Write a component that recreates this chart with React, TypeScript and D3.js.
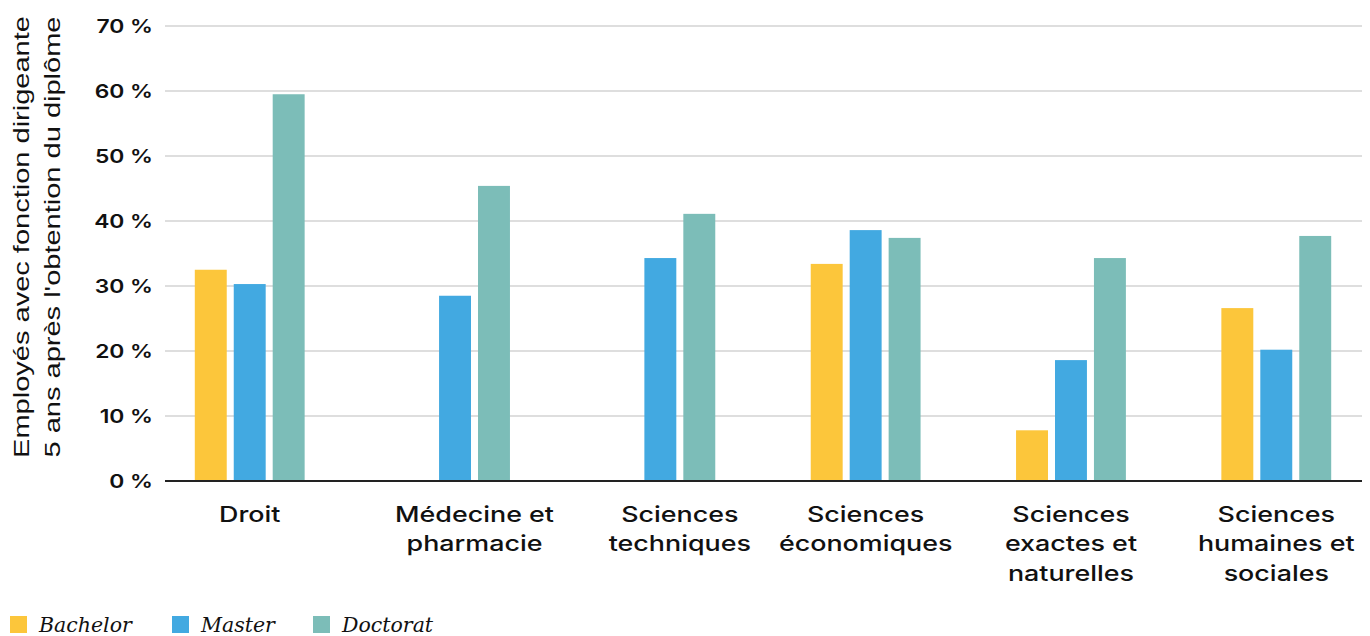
import React from "react";
import * as d3 from "d3";

const categories: string[][] = [
  ["Droit"],
  ["Médecine et", "pharmacie"],
  ["Sciences", "techniques"],
  ["Sciences", "économiques"],
  ["Sciences", "exactes et", "naturelles"],
  ["Sciences", "humaines et", "sociales"],
];
const seriesNames = ["Bachelor", "Master", "Doctorat"];
const bachelor: (number | null)[] = [32.5, null, null, 33.4, 7.8, 26.6];
const master: (number | null)[] = [30.3, 28.5, 34.3, 38.6, 18.6, 20.2];
const doctorat: (number | null)[] = [59.5, 45.4, 41.1, 37.4, 34.3, 37.7];
const yTicks = [0, 10, 20, 30, 40, 50, 60, 70];
const colors = ["#FCC63B", "#42A9E1", "#7CBDB8"];
const yTitle = ["Employés avec fonction dirigeante", "5 ans après l'obtention du diplôme"];

export default function App() {
  const W = 1370, H = 636;
  const left = 165, right = 1362, top = 26, bottom = 481;
  const series = [bachelor, master, doctorat];
  const idx = categories.map((_, i) => i);
  const x0 = d3.scaleBand<number>().domain(idx).range([left - 1, right]).paddingInner(0.465).paddingOuter(0.15);
  const x1 = d3.scaleBand<number>().domain([0, 1, 2]).range([0, x0.bandwidth()]).paddingInner(0.18).paddingOuter(0);
  const y = d3.scaleLinear().domain([0, 70]).range([bottom, top]);
  const sx = 1.25;

  return (
    <svg width={W} height={H} style={{ position: "absolute", left: 0, top: 0, background: "#fff" }}>
      {yTicks.map((t) => (
        <g key={t}>
          {t > 0 && <line x1={left} x2={right} y1={y(t)} y2={y(t)} stroke="#dedede" strokeWidth={2} />}
          <text transform={`translate(153,${y(t) + 7}) scale(1.2,1)`} textAnchor="end" fontFamily="Inter" fontWeight={600} fontSize={19} fill="#111">
            {t} %
          </text>
        </g>
      ))}
      {idx.map((ci) =>
        series.map((s, si) => {
          const v = s[ci];
          if (v == null) return null;
          return (
            <rect key={`${ci}-${si}`} x={(x0(ci) as number) + (x1(si) as number)} y={y(v)} width={x1.bandwidth()} height={y(0) - y(v)} fill={colors[si]} />
          );
        })
      )}
      <line x1={left} x2={right} y1={y(0)} y2={y(0)} stroke="#222" strokeWidth={2} />
      {categories.map((lines, ci) => {
        const present = series.map((s, si) => (s[ci] == null ? null : si)).filter((v) => v != null) as number[];
        const xs = present.map((si) => (x0(ci) as number) + (x1(si) as number));
        const cx = (d3.min(xs)! + d3.max(xs)! + x1.bandwidth()) / 2;
        return (
          <text key={ci} transform={`translate(${cx},0) scale(${sx},1)`} textAnchor="middle" fontFamily="Inter" fontWeight={500} fontSize={21.5} fill="#111">
            {lines.map((l, li) => (
              <tspan key={li} x={0} y={522 + li * 29.5}>{l}</tspan>
            ))}
          </text>
        );
      })}
      <text transform="translate(0,237) rotate(-90) scale(1.29,1)" textAnchor="middle" fontFamily="Liberation Sans" fontSize={22.5} fill="#111">
        {yTitle.map((l, i) => (
          <tspan key={i} x={0} y={29.5 + i * 30.5}>{l}</tspan>
        ))}
      </text>
      {seriesNames.map((n, i) => {
        const lx = [10, 172, 313][i];
        return (
          <g key={n}>
            <rect x={lx} y={616} width={17} height={17} fill={colors[i]} />
            <text x={lx + 29} y={632} fontFamily="DejaVu Serif" fontStyle="italic" fontSize={20.5} fill="#111">{n}</text>
          </g>
        );
      })}
    </svg>
  );
}
